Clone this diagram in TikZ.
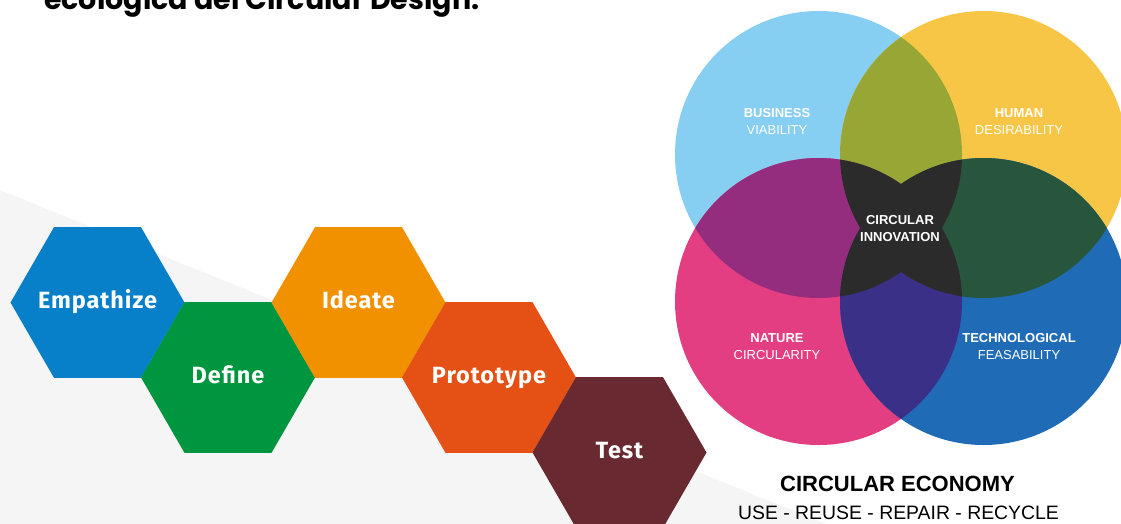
\documentclass[tikz,border=0pt]{standalone}
\usepackage{fontspec}
\setmainfont{Liberation Sans}
\newfontfamily\hexfont[LetterSpace=4]{Fira Sans}
\newfontfamily\titlefont{Poppins}
\usetikzlibrary{shapes.geometric}
\definecolor{bggray}{HTML}{F5F5F5}
\definecolor{cEmp}{HTML}{0880C9}
\definecolor{cDef}{HTML}{009640}
\definecolor{cIde}{HTML}{F29100}
\definecolor{cPro}{HTML}{E55014}
\definecolor{cTes}{HTML}{682930}
\definecolor{cBus}{HTML}{86CEF2}
\definecolor{cHum}{HTML}{F8C646}
\definecolor{cNat}{HTML}{E33E81}
\definecolor{cTec}{HTML}{1F6BB5}
\definecolor{cBH}{HTML}{97A634}
\definecolor{cBN}{HTML}{952D7F}
\definecolor{cHT}{HTML}{28563C}
\definecolor{cNT}{HTML}{3A3087}
\definecolor{cCore}{HTML}{2B2B2B}
\tikzset{
  hexa/.style={regular polygon, regular polygon sides=6, minimum size=174pt, inner sep=0pt, outer sep=0pt, draw=none},
  hextext/.style={anchor=base, text=white, inner sep=0pt, font=\hexfont\bfseries\fontsize{23.5}{28}\selectfont},
  clab/.style={align=center, text=white, inner sep=0pt, font=\fontsize{13}{17}\selectfont},
}
\begin{document}
\begin{tikzpicture}[x=1pt,y=-1pt]
\useasboundingbox (0,0) rectangle (1121,523);
\clip (0,0) rectangle (1121,523);
% background wedge
\fill[bggray] (0,190) -- (1121,643) -- (0,643) -- cycle;
% title (cut off at the top edge, as in the reference)
\node[anchor=base west, inner sep=0pt, font=\titlefont\bfseries\fontsize{28.5}{32}\selectfont] (title) at (44,9) {ecologica del Circular Design.};
% hexagons
\node[hexa, fill=cEmp] (emp) at (97.5,302.5) {};
\node[hexa, fill=cDef] (def) at (228,377.5) {};
\node[hexa, fill=cIde] (ide) at (358.5,302.5) {};
\node[hexa, fill=cPro] (pro) at (489,377.5) {};
\node[hexa, fill=cTes] (tes) at (619.5,452.5) {};
\node[hextext] (empt) at ([yshift=-5.5pt]emp.center) {Empathize};
\node[hextext] (deft) at ([yshift=-5.5pt]def.center) {Define};
\node[hextext] (idet) at ([yshift=-5.5pt]ide.center) {Ideate};
\node[hextext] (prot) at ([yshift=-5.5pt]pro.center) {Prototype};
\node[hextext] (test) at ([yshift=-5.5pt]tes.center) {Test};
% circles
\def\R{143.5}
\coordinate (cb) at (818.5,154.5);
\coordinate (ch) at (983.5,154.5);
\coordinate (cn) at (818.5,301.5);
\coordinate (ct) at (983.5,301.5);
\fill[cBus] (cb) circle (\R);
\fill[cHum] (ch) circle (\R);
\fill[cNat] (cn) circle (\R);
\fill[cTec] (ct) circle (\R);
\begin{scope}\clip (cb) circle (\R); \fill[cBH] (ch) circle (\R);\end{scope}
\begin{scope}\clip (cb) circle (\R); \fill[cBN] (cn) circle (\R);\end{scope}
\begin{scope}\clip (ch) circle (\R); \fill[cHT] (ct) circle (\R);\end{scope}
\begin{scope}\clip (cn) circle (\R); \fill[cNT] (ct) circle (\R);\end{scope}
\begin{scope}\clip (cb) circle (\R); \clip (ch) circle (\R); \fill[cCore] (cn) circle (\R); \fill[cCore] (ct) circle (\R);\end{scope}
\begin{scope}\clip (cn) circle (\R); \clip (ct) circle (\R); \fill[cCore] (cb) circle (\R); \fill[cCore] (ch) circle (\R);\end{scope}
% circle labels
\node[clab] (bv) at (777,121.5) {\bfseries BUSINESS\\VIABILITY};
\node[clab] (hd) at (1019,121.5) {\bfseries HUMAN\\DESIRABILITY};
\node[clab] (ci) at (900,228.5) {\bfseries CIRCULAR\\\bfseries INNOVATION};
\node[clab] (nc) at (777,347) {\bfseries NATURE\\CIRCULARITY};
\node[clab] (tf) at (1019,346.5) {\bfseries TECHNOLOGICAL\\FEASABILITY};
% bottom text
\node[inner sep=0pt, font=\bfseries\fontsize{22}{24}\selectfont] (ce) at (897.5,484) {CIRCULAR ECONOMY};
\node[inner sep=0pt, font=\fontsize{19.4}{22}\selectfont] (ur) at (898.5,513) {USE - REUSE - REPAIR - RECYCLE};
\end{tikzpicture}
\end{document}
